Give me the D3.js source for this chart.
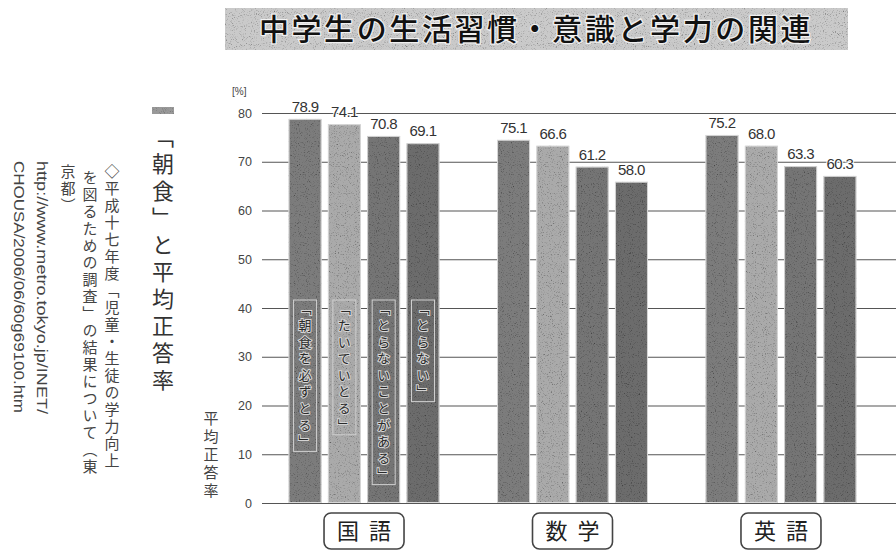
<!DOCTYPE html>
<html>
<head>
<meta charset="utf-8">
<script src="https://cdn.jsdelivr.net/npm/d3@7"></script>
<style>
  body { margin: 0; background: #fff; }
  svg { display: block; font-family: "Noto Sans CJK JP", "Noto Sans", sans-serif; }
  .vt { writing-mode: vertical-rl; }
</style>
</head>
<body>
<script>
/* ---------------------------- */
/* DATA                         */
/* ---------------------------- */

const subjects = ["国語", "数学", "英語"];
const breakfast = ["「朝食を必ずとる」", "「たいていとる」", "「とらないことがある」", "「とらない」"];

// printed values above the bars
const labelsKokugo = ["78.9", "74.1", "70.8", "69.1"];
const labelsSugaku = ["75.1", "66.6", "61.2", "58.0"];
const labelsEigo   = ["75.2", "68.0", "63.3", "60.3"];

// bar heights as drawn in the picture (the original is not drawn to scale)
const barsKokugo = [78.8, 77.7, 75.3, 73.8];
const barsSugaku = [74.5, 73.3, 69.0, 65.9];
const barsEigo   = [75.5, 73.3, 69.1, 67.1];

const yTicks = [0, 10, 20, 30, 40, 50, 60, 70, 80];

const title = "中学生の生活習慣・意識と学力の関連";
const sideTitle = "「朝食」と平均正答率";
const notes = ["◇平成十七年度「児童・生徒の学力向上", "を図るための調査」の結果について（東", "京都）"];
const urls = ["http://www.metro.tokyo.jp/INET/", "CHOUSA/2006/06/60g69100.htm"];
const yTitle = "平均正答率";

const barColors = ["#7c7c7c", "#aaaaaa", "#747474", "#6c6c6c"];

/* ---------------------------- */
/* CANVAS                       */
/* ---------------------------- */

const w = 896, h = 552;

let svg = d3.select("body")
    .append("svg")
        .attr("width", w)
        .attr("height", h);

// grainy print texture
let defs = svg.append("defs");
let grain = defs.append("filter").attr("id", "grain").attr("x", 0).attr("y", 0).attr("width", 1).attr("height", 1);
grain.append("feTurbulence").attr("type", "fractalNoise").attr("baseFrequency", 0.9).attr("numOctaves", 2).attr("seed", 4).attr("result", "noise");
grain.append("feColorMatrix").attr("in", "noise").attr("type", "saturate").attr("values", 0).attr("result", "gray");
let ct = grain.append("feComponentTransfer").attr("in", "gray").attr("result", "g2");
["feFuncR", "feFuncG", "feFuncB"].forEach(f => ct.append(f).attr("type", "linear").attr("slope", 2.6).attr("intercept", -0.2));
ct.append("feFuncA").attr("type", "linear").attr("slope", 0).attr("intercept", 1);
grain.append("feBlend").attr("in", "SourceGraphic").attr("in2", "g2").attr("mode", "multiply").attr("result", "b");
grain.append("feComposite").attr("in", "b").attr("in2", "SourceGraphic").attr("operator", "in");

/* ---------------------------- */
/* TITLE + SIDE TEXT            */
/* ---------------------------- */

svg.append("rect")
    .attr("x", 225).attr("y", 8).attr("width", 623).attr("height", 42)
    .attr("fill", "#cacaca")
    .attr("filter", "url(#grain)");

svg.append("text")
    .attr("x", 536).attr("y", 40)
    .attr("text-anchor", "middle")
    .attr("font-size", 30)
    .attr("font-weight", 500)
    .attr("letter-spacing", 2.6)
    .attr("fill", "#111")
    .attr("stroke", "#f0f0f0").attr("stroke-width", 2.5).attr("paint-order", "stroke")
    .text(title);

svg.append("rect")
    .attr("x", 152).attr("y", 107).attr("width", 22).attr("height", 7)
    .attr("fill", "#999").attr("filter", "url(#grain)");

svg.append("text")
    .attr("class", "vt")
    .attr("x", 163).attr("y", 126)
    .attr("font-size", 22)
    .attr("letter-spacing", 5)
    .attr("fill", "#333")
    .text(sideTitle);

svg.selectAll(".note")
    .data(notes)
    .enter()
    .append("text")
        .attr("class", "vt note")
        .attr("x", (d, i) => 112 - i * 22)
        .attr("y", (d, i) => i === 1 ? 170 : 164)
        .attr("font-size", 15)
        .attr("letter-spacing", 2)
        .attr("fill", "#444")
        .text(d => d);

// latin lines run top to bottom, letters turned clockwise
const urlLen = [253, 252];
svg.selectAll(".url")
    .data(urls)
    .enter()
    .append("text")
        .attr("class", "url")
        .attr("transform", (d, i) => "translate(" + (37 - i * 23) + ",161) rotate(90)")
        .attr("font-family", "Liberation Sans, sans-serif")
        .attr("font-size", 14)
        .attr("textLength", (d, i) => urlLen[i])
        .attr("lengthAdjust", "spacingAndGlyphs")
        .attr("fill", "#444")
        .text(d => d);

/* ---------------------------- */
/* SCALES + AXIS                */
/* ---------------------------- */

let y = d3.scaleLinear().domain([0, 80]).range([503, 113]);

let x0 = d3.scaleBand()
    .domain(subjects)
    .range([260, 885])
    .paddingInner(0.276)
    .paddingOuter(0.137);

let x1 = d3.scaleBand()
    .domain(breakfast)
    .range([0, x0.bandwidth()])
    .paddingInner(0.16);

let axis = svg.append("g")
    .attr("transform", "translate(" + w + ",0)")
    .call(d3.axisLeft(y).tickValues(yTicks).tickSize(w - 262).tickPadding(10));
axis.select(".domain").remove();
axis.selectAll("line").attr("stroke", "#555").attr("stroke-width", 1.2);
axis.selectAll("text")
    .attr("font-family", "Liberation Sans, sans-serif")
    .attr("font-size", 12.5)
    .attr("fill", "#444");

svg.append("text")
    .attr("x", 232).attr("y", 95)
    .attr("font-family", "Liberation Sans, sans-serif")
    .attr("font-size", 10)
    .attr("fill", "#444")
    .text("[%]");

svg.append("text")
    .attr("class", "vt")
    .attr("x", 211).attr("y", 411)
    .attr("font-size", 15)
    .attr("letter-spacing", 3)
    .attr("fill", "#444")
    .text(yTitle);

/* ---------------------------- */
/* BARS                         */
/* ---------------------------- */

const groups = [
    {subject: subjects[0], bars: barsKokugo, labels: labelsKokugo},
    {subject: subjects[1], bars: barsSugaku, labels: labelsSugaku},
    {subject: subjects[2], bars: barsEigo, labels: labelsEigo}
];

let g = svg.selectAll(".group")
    .data(groups)
    .enter()
    .append("g")
        .attr("class", "group")
        .attr("transform", d => "translate(" + x0(d.subject) + ",0)");

let bar = g.selectAll(".bar")
    .data(d => d.bars.map((v, i) => ({value: v, label: d.labels[i], cat: breakfast[i], i: i, subject: d.subject})))
    .enter()
    .append("g")
        .attr("class", "bar");

bar.append("rect")
    .attr("x", d => x1(d.cat))
    .attr("y", d => y(d.value))
    .attr("width", x1.bandwidth())
    .attr("height", d => y(0) - y(d.value))
    .attr("fill", d => barColors[d.i])
    .attr("filter", "url(#grain)");

bar.append("rect")
    .attr("x", d => x1(d.cat) + 0.5)
    .attr("y", d => y(d.value) + 0.5)
    .attr("width", x1.bandwidth() - 1)
    .attr("height", d => y(0) - y(d.value) - 1)
    .attr("fill", "none")
    .attr("stroke", "#d8d8d8")
    .attr("stroke-width", 1);

bar.append("text")
    .attr("x", d => x1(d.cat) + x1.bandwidth() / 2)
    .attr("y", d => y(d.value) - 7)
    .attr("text-anchor", "middle")
    .attr("font-family", "Liberation Sans, sans-serif")
    .attr("font-size", 15)
    .attr("letter-spacing", -0.6)
    .attr("fill", "#333")
    .attr("stroke", "#fff").attr("stroke-width", 2).attr("paint-order", "stroke")
    .text(d => d.label);

// category names written inside the first group's bars
let inner = bar.filter(d => d.subject === subjects[0]);

inner.append("text")
    .attr("class", "vt")
    .attr("x", d => x1(d.cat) + x1.bandwidth() / 2)
    .attr("y", 302)
    .attr("font-size", 13)
    .attr("letter-spacing", 3.6)
    .attr("fill", "#2a2a2a")
    .attr("stroke", "#d4d4d4").attr("stroke-width", 2).attr("paint-order", "stroke")
    .text(d => d.cat)
    .each(function(d) {
        let bb = this.getBBox();
        d3.select(this.parentNode).insert("rect", "text")
            .attr("x", bb.x - 2).attr("y", bb.y - 2)
            .attr("width", bb.width + 4).attr("height", bb.height + 2)
            .attr("fill", "none")
            .attr("stroke", "#d0d0d0")
            .attr("stroke-width", 1);
    });

/* ---------------------------- */
/* SUBJECT LABELS               */
/* ---------------------------- */

let cat = svg.selectAll(".cat")
    .data(subjects)
    .enter()
    .append("g")
        .attr("class", "cat")
        .attr("transform", d => "translate(" + (x0(d) + x0.bandwidth() / 2) + ",531)");

cat.append("rect")
    .attr("x", -40).attr("y", -18)
    .attr("width", 80).attr("height", 36)
    .attr("rx", 7)
    .attr("fill", "#fff")
    .attr("stroke", "#444")
    .attr("stroke-width", 1.6);

cat.append("text")
    .attr("x", 5).attr("y", 8)
    .attr("text-anchor", "middle")
    .attr("font-size", 22)
    .attr("letter-spacing", 10)
    .attr("fill", "#222")
    .text(d => d);
</script>
</body>
</html>
